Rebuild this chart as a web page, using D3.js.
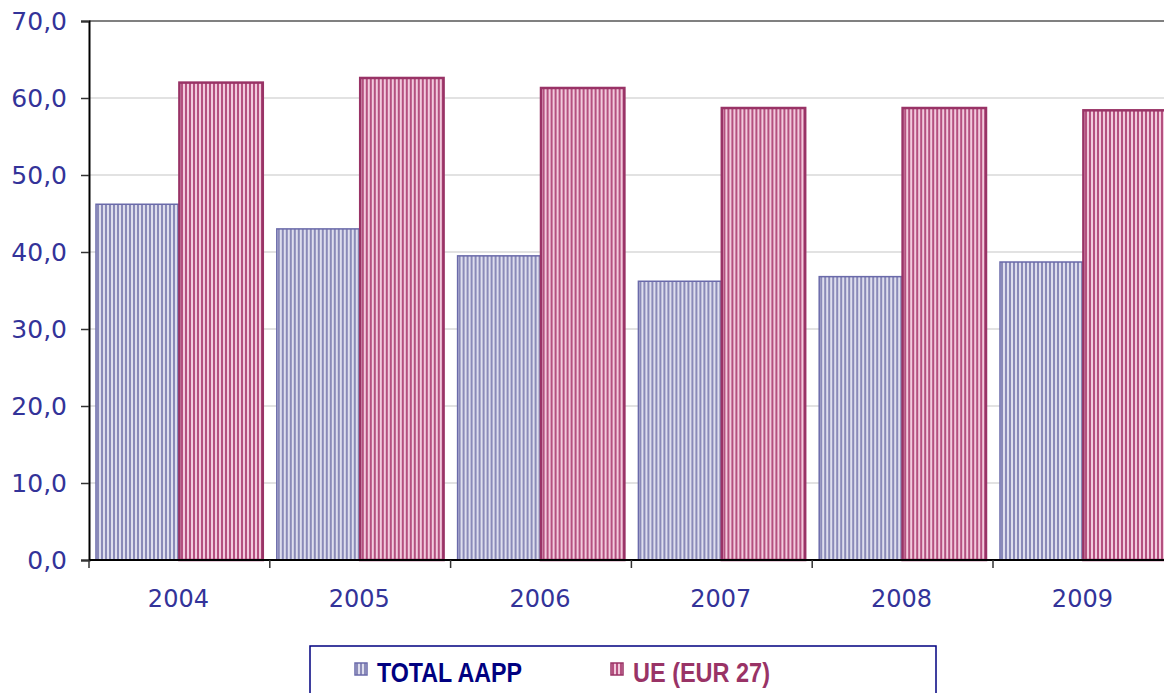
<!DOCTYPE html>
<html>
<head>
<meta charset="utf-8">
<script src="https://cdn.jsdelivr.net/npm/d3@7"></script>
<style>
  body { margin: 0; background: #fff; }
  svg { display: block; }
</style>
</head>
<body>
<div id="chart"></div>
<script>
// data
var years = ["2004", "2005", "2006", "2007", "2008", "2009"];
var totalAapp = [46.2, 43.0, 39.5, 36.2, 36.8, 38.7];
var ueEur27 = [62.0, 62.6, 61.3, 58.7, 58.7, 58.4];
var seriesNames = ["TOTAL AAPP", "UE (EUR 27)"];
var yTicks = [0, 10, 20, 30, 40, 50, 60, 70];

var W = 1164, H = 693;
var svg = d3.select("#chart").append("svg")
  .attr("width", W).attr("height", H);

// striped fills
var defs = svg.append("defs");
function stripes(id, bg, fg) {
  var p = defs.append("pattern")
    .attr("id", id)
    .attr("patternUnits", "userSpaceOnUse")
    .attr("width", 4).attr("height", 4);
  p.append("rect").attr("width", 4).attr("height", 4).attr("fill", bg);
  p.append("rect").attr("width", 2).attr("height", 4).attr("fill", fg);
}
stripes("stripeBlue", "#dedeee", "#8a8ab8");
stripes("stripeRed", "#f2cadd", "#b4507f");

var fills = ["url(#stripeBlue)", "url(#stripeRed)"];
var strokes = ["#6a6aaa", "#993366"];

var x0 = d3.scaleBand()
  .domain(years)
  .range([89, 89 + 6 * 180.8])
  .padding(0);

var x1 = d3.scaleBand()
  .domain(seriesNames)
  .range([0, x0.bandwidth()])
  .paddingInner(0)
  .paddingOuter(0.084);

var y = d3.scaleLinear()
  .domain([0, 70])
  .range([560, 21]);

// gridlines
svg.append("g")
  .selectAll("line")
  .data(yTicks.filter(function (d) { return d > 0 && d < 70; }))
  .enter().append("line")
    .attr("x1", 89).attr("x2", W)
    .attr("y1", function (d) { return y(d); })
    .attr("y2", function (d) { return y(d); })
    .attr("stroke", "#c6c6c6")
    .attr("stroke-width", 1.2);

// top border
svg.append("line")
  .attr("x1", 89).attr("x2", W)
  .attr("y1", y(70)).attr("y2", y(70))
  .attr("stroke", "#808080")
  .attr("stroke-width", 2);

// bars
var rows = years.map(function (yr, i) {
  return { year: yr, values: [totalAapp[i], ueEur27[i]] };
});

var groups = svg.append("g")
  .selectAll("g")
  .data(rows)
  .enter().append("g")
    .attr("transform", function (d) { return "translate(" + x0(d.year) + ",0)"; });

groups.selectAll("rect")
  .data(function (d) {
    return d.values.map(function (v, j) { return { key: seriesNames[j], value: v, j: j }; });
  })
  .enter().append("rect")
    .attr("x", function (d) { return x1(d.key); })
    .attr("y", function (d) { return y(d.value); })
    .attr("width", x1.bandwidth())
    .attr("height", function (d) { return y(0) - y(d.value); })
    .attr("fill", function (d) { return fills[d.j]; })
    .attr("stroke", function (d) { return strokes[d.j]; })
    .attr("stroke-width", function (d) { return d.j === 1 ? 2.5 : 1.5; });

// y axis
var yAxis = svg.append("g")
  .attr("transform", "translate(89,0)")
  .call(d3.axisLeft(y)
    .tickValues(yTicks)
    .tickSize(8)
    .tickPadding(14)
    .tickFormat(function (d) { return d3.format(".1f")(d).replace(".", ","); }));
yAxis.select(".domain").attr("stroke", "#000").attr("stroke-width", 2);
yAxis.selectAll(".tick line").attr("stroke", "#333").attr("stroke-width", 1.5);
yAxis.selectAll(".tick text")
  .attr("fill", "#333399")
  .style("font-family", "'DejaVu Sans', Verdana, sans-serif")
  .style("font-size", "25px");

// x axis
var xAxis = svg.append("g")
  .attr("transform", "translate(0,560)");
xAxis.append("line")
  .attr("x1", 89).attr("x2", W)
  .attr("stroke", "#000").attr("stroke-width", 2);
xAxis.selectAll(".tk")
  .data(years)
  .enter().append("line")
    .attr("class", "tk")
    .attr("x1", function (d) { return x0(d); })
    .attr("x2", function (d) { return x0(d); })
    .attr("y1", 0).attr("y2", 8)
    .attr("stroke", "#333").attr("stroke-width", 1.5);
xAxis.selectAll("text")
  .data(years)
  .enter().append("text")
    .attr("x", function (d) { return x0(d) + x0.bandwidth() / 2 - 1; })
    .attr("y", 47)
    .attr("text-anchor", "middle")
    .attr("fill", "#333399")
    .style("font-family", "'DejaVu Sans', Verdana, sans-serif")
    .style("font-size", "24px")
    .text(function (d) { return d; });

// legend
var legend = svg.append("g");
legend.append("rect")
  .attr("x", 310).attr("y", 646)
  .attr("width", 626).attr("height", 60)
  .attr("fill", "#fff")
  .attr("stroke", "#000080")
  .attr("stroke-width", 1.5);

var legendItems = [
  { name: seriesNames[0], fill: fills[0], stroke: strokes[0], color: "#000080", sx: 355, tx: 377, len: 145 },
  { name: seriesNames[1], fill: fills[1], stroke: strokes[1], color: "#993366", sx: 611, tx: 633, len: 137 }
];
var li = legend.selectAll(".item")
  .data(legendItems)
  .enter().append("g").attr("class", "item");
li.append("rect")
  .attr("x", function (d) { return d.sx; })
  .attr("y", 663)
  .attr("width", 12).attr("height", 12)
  .attr("fill", function (d) { return d.fill; })
  .attr("stroke", function (d) { return d.stroke; })
  .attr("stroke-width", 1.5);
li.append("text")
  .attr("x", function (d) { return d.tx; })
  .attr("y", 682)
  .attr("fill", function (d) { return d.color; })
  .attr("textLength", function (d) { return d.len; })
  .attr("lengthAdjust", "spacingAndGlyphs")
  .style("font-family", "'Liberation Sans', Arial, sans-serif")
  .style("font-weight", "bold")
  .style("font-size", "27px")
  .text(function (d) { return d.name; });
</script>
</body>
</html>
